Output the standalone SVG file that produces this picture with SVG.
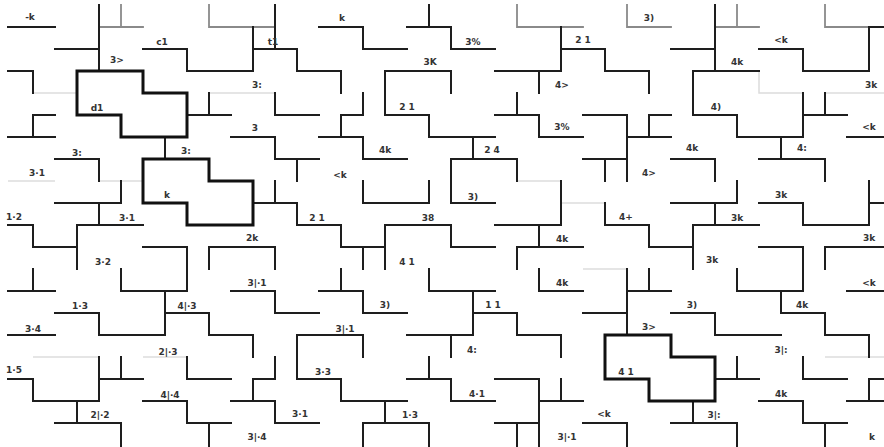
<svg xmlns="http://www.w3.org/2000/svg" width="884" height="447" viewBox="0 0 884 447">
<style>
.d{fill:none;stroke:#1e1e1e;stroke-width:2;stroke-linecap:square}
.m{fill:none;stroke:#8a8a8a;stroke-width:1.8;stroke-linecap:square}
.f{fill:none;stroke:#dcdcdc;stroke-width:1.5}
.b{fill:none;stroke:#111;stroke-width:3;stroke-linejoin:miter}
.t{font-family:"DejaVu Sans",sans-serif;font-size:9px;font-weight:bold;fill:#333;text-anchor:middle}
</style>
<rect width="884" height="447" fill="#fff"/>
<g id="faint">
<polyline class="f" points="33,93 77,93"/>
<polyline class="f" points="209,93 275,93"/>
<polyline class="f" points="8,181 55,181"/>
<polyline class="f" points="99,181 143,181"/>
<polyline class="f" points="517,181 561,181"/>
<polyline class="f" points="561,203 605,203"/>
<polyline class="f" points="759,71 759,93 803,93"/>
<polyline class="f" points="825,93 884,93"/>
<polyline class="f" points="33,357 99,357"/>
<polyline class="f" points="143,357 187,357"/>
<polyline class="f" points="583,269 627,269"/>
<polyline class="f" points="825,357 884,357"/>
</g>
<g id="connectors">
<polyline class="m" points="121,5 121,27"/>
<polyline class="m" points="99,27 143,27"/>
<polyline class="m" points="209,5 209,27 275,27"/>
<polyline class="m" points="517,5 517,27 583,27"/>
<polyline class="m" points="627,5 627,27 671,27"/>
<polyline class="m" points="737,5 737,27"/>
<polyline class="m" points="715,27 759,27"/>
<polyline class="m" points="825,5 825,27 869,27"/>
<polyline class="d" points="8,27 55,27"/>
<polyline class="d" points="99,5 99,71"/>
<polyline class="d" points="55,49 99,49"/>
<polyline class="d" points="275,5 275,49"/>
<polyline class="d" points="143,49 187,49 187,71 253,71 253,27"/>
<polyline class="d" points="253,49 297,49 297,71 341,71 341,93"/>
<polyline class="d" points="8,71 33,71 33,93"/>
<polyline class="d" points="33,115 55,115"/>
<polyline class="d" points="33,115 33,137"/>
<polyline class="d" points="8,137 55,137"/>
<polyline class="d" points="209,93 209,115"/>
<polyline class="d" points="187,115 231,115"/>
<polyline class="d" points="275,93 275,115 319,115"/>
<polyline class="d" points="231,137 275,137 275,159 319,159"/>
<polyline class="d" points="297,159 297,181"/>
<polyline class="d" points="165,137 165,159"/>
<polyline class="d" points="55,159 99,159 99,181"/>
<polyline class="d" points="253,203 297,203 297,225 341,225 341,247 385,247"/>
<polyline class="d" points="275,181 275,203"/>
<polyline class="d" points="121,181 121,203"/>
<polyline class="d" points="55,203 121,203"/>
<polyline class="d" points="99,203 99,225"/>
<polyline class="d" points="77,225 143,225"/>
<polyline class="d" points="8,225 33,225 33,247 77,247"/>
<polyline class="d" points="77,225 77,269"/>
<polyline class="d" points="143,247 187,247 187,291"/>
<polyline class="d" points="121,291 187,291"/>
<polyline class="d" points="121,269 121,291"/>
<polyline class="d" points="209,247 275,247"/>
<polyline class="d" points="209,247 209,269"/>
<polyline class="d" points="275,247 275,269"/>
<polyline class="d" points="231,291 275,291 275,313 319,313"/>
<polyline class="d" points="33,269 33,291"/>
<polyline class="d" points="8,291 55,291"/>
<polyline class="d" points="165,291 165,335"/>
<polyline class="d" points="165,313 209,313 209,335 253,335 253,357"/>
<polyline class="d" points="55,313 99,313 99,335 165,335"/>
<polyline class="d" points="8,335 55,335"/>
<polyline class="d" points="297,335 297,379"/>
<polyline class="d" points="275,357 275,379 253,379 253,401"/>
<polyline class="d" points="231,401 275,401 275,423 319,423"/>
<polyline class="d" points="99,357 99,401"/>
<polyline class="d" points="33,401 99,401"/>
<polyline class="d" points="33,379 33,401"/>
<polyline class="d" points="8,379 33,379"/>
<polyline class="d" points="99,379 143,379"/>
<polyline class="d" points="121,357 121,379"/>
<polyline class="d" points="187,357 187,379 231,379"/>
<polyline class="d" points="143,401 187,401 187,423 231,423"/>
<polyline class="d" points="209,423 209,447"/>
<polyline class="d" points="77,401 77,423"/>
<polyline class="d" points="55,423 121,423"/>
<polyline class="d" points="121,423 121,447"/>
<polyline class="d" points="319,27 363,27 363,49 407,49"/>
<polyline class="d" points="429,5 429,27"/>
<polyline class="d" points="407,27 451,27 451,49 495,49"/>
<polyline class="d" points="561,27 561,71"/>
<polyline class="d" points="561,49 605,49 605,71 649,71 649,93"/>
<polyline class="d" points="495,71 561,71"/>
<polyline class="d" points="539,71 539,93"/>
<polyline class="d" points="385,71 451,71 451,93"/>
<polyline class="d" points="385,71 385,115 429,115 429,137 495,137"/>
<polyline class="d" points="363,93 363,115"/>
<polyline class="d" points="341,115 363,115"/>
<polyline class="d" points="341,115 341,137"/>
<polyline class="d" points="319,137 363,137"/>
<polyline class="d" points="363,137 363,159 407,159"/>
<polyline class="d" points="517,93 517,115"/>
<polyline class="d" points="495,115 539,115"/>
<polyline class="d" points="539,115 539,137 583,137"/>
<polyline class="d" points="583,115 627,115"/>
<polyline class="d" points="627,115 627,181"/>
<polyline class="d" points="473,137 473,159"/>
<polyline class="d" points="451,159 517,159"/>
<polyline class="d" points="451,159 451,203 495,203"/>
<polyline class="d" points="517,159 517,181"/>
<polyline class="d" points="561,181 561,225"/>
<polyline class="d" points="495,225 561,225"/>
<polyline class="d" points="583,159 627,159"/>
<polyline class="d" points="605,159 605,181"/>
<polyline class="d" points="363,181 363,203 429,203"/>
<polyline class="d" points="429,181 429,203"/>
<polyline class="d" points="385,225 451,225"/>
<polyline class="d" points="385,225 385,269"/>
<polyline class="d" points="451,225 451,247 495,247"/>
<polyline class="d" points="363,247 363,269"/>
<polyline class="d" points="539,225 539,247"/>
<polyline class="d" points="517,247 583,247"/>
<polyline class="d" points="517,247 517,269"/>
<polyline class="d" points="429,269 429,291 495,291"/>
<polyline class="d" points="473,291 473,335"/>
<polyline class="d" points="341,269 341,291"/>
<polyline class="d" points="319,291 363,291"/>
<polyline class="d" points="363,291 363,313 407,313"/>
<polyline class="d" points="539,269 539,291 583,291"/>
<polyline class="d" points="473,313 517,313 517,335 561,335 561,357"/>
<polyline class="d" points="297,335 363,335 363,357"/>
<polyline class="d" points="407,335 473,335"/>
<polyline class="d" points="451,335 451,357"/>
<polyline class="d" points="429,357 429,379"/>
<polyline class="d" points="407,379 451,379 451,401 495,401"/>
<polyline class="d" points="297,379 341,379 341,401 407,401"/>
<polyline class="d" points="385,401 385,423"/>
<polyline class="d" points="363,423 429,423"/>
<polyline class="d" points="363,423 363,447"/>
<polyline class="d" points="429,423 429,447"/>
<polyline class="d" points="495,379 539,379"/>
<polyline class="d" points="539,379 539,447"/>
<polyline class="d" points="539,401 583,401"/>
<polyline class="d" points="561,379 561,401"/>
<polyline class="d" points="495,423 539,423"/>
<polyline class="d" points="517,423 517,447"/>
<polyline class="d" points="583,423 627,423 627,447"/>
<polyline class="d" points="715,5 715,71"/>
<polyline class="d" points="671,49 715,49"/>
<polyline class="d" points="759,49 803,49 803,71 869,71"/>
<polyline class="d" points="869,27 869,71"/>
<polyline class="d" points="869,27 884,27"/>
<polyline class="d" points="693,71 759,71"/>
<polyline class="d" points="693,71 693,115 737,115 737,137 803,137"/>
<polyline class="d" points="803,93 803,137"/>
<polyline class="d" points="627,137 671,137"/>
<polyline class="d" points="649,115 649,137"/>
<polyline class="d" points="649,115 671,115"/>
<polyline class="d" points="825,93 825,115"/>
<polyline class="d" points="803,115 847,115"/>
<polyline class="d" points="847,137 884,137"/>
<polyline class="d" points="781,137 781,159"/>
<polyline class="d" points="671,159 715,159 715,181"/>
<polyline class="d" points="737,181 737,203"/>
<polyline class="d" points="671,203 737,203"/>
<polyline class="d" points="759,159 825,159 825,181"/>
<polyline class="d" points="759,203 803,203 803,225 869,225"/>
<polyline class="d" points="869,181 869,225"/>
<polyline class="d" points="869,203 884,203"/>
<polyline class="d" points="605,203 605,225 649,225 649,247 693,247"/>
<polyline class="d" points="715,203 715,225"/>
<polyline class="d" points="693,225 759,225"/>
<polyline class="d" points="693,225 693,269"/>
<polyline class="d" points="737,269 737,291 803,291"/>
<polyline class="d" points="803,247 803,291"/>
<polyline class="d" points="759,247 803,247"/>
<polyline class="d" points="825,247 825,269"/>
<polyline class="d" points="825,247 884,247"/>
<polyline class="d" points="627,269 627,335"/>
<polyline class="d" points="627,291 671,291"/>
<polyline class="d" points="649,269 649,291"/>
<polyline class="d" points="847,291 884,291"/>
<polyline class="d" points="583,313 627,313"/>
<polyline class="d" points="671,313 715,313 715,335 781,335"/>
<polyline class="d" points="781,291 781,313 825,313 825,335 869,335 869,357"/>
<polyline class="d" points="737,357 737,379"/>
<polyline class="d" points="715,379 759,379"/>
<polyline class="d" points="803,357 803,379 847,379"/>
<polyline class="d" points="869,379 869,401"/>
<polyline class="d" points="869,379 884,379"/>
<polyline class="d" points="847,401 884,401"/>
<polyline class="d" points="759,401 803,401 803,423 847,423"/>
<polyline class="d" points="825,423 825,447"/>
<polyline class="d" points="693,401 693,423"/>
<polyline class="d" points="671,423 737,423"/>
<polyline class="d" points="737,423 737,447"/>
</g>
<g id="tile-1"><polygon class="b" points="77,71 143,71 143,93 187,93 187,137 121,137 121,115 77,115"/></g>
<g id="tile-2"><polygon class="b" points="143,159 209,159 209,181 253,181 253,225 187,225 187,203 143,203"/></g>
<g id="tile-3"><polygon class="b" points="605,335 671,335 671,357 715,357 715,401 649,401 649,379 605,379"/></g>
<g id="labels">
<text class="t" x="30" y="20">-k</text>
<text class="t" x="117" y="63">3&gt;</text>
<text class="t" x="162" y="45">c1</text>
<text class="t" x="273" y="45">t1</text>
<text class="t" x="97" y="111">d1</text>
<text class="t" x="257" y="88">3:</text>
<text class="t" x="255" y="131">3</text>
<text class="t" x="186" y="154">3:</text>
<text class="t" x="77" y="156">3:</text>
<text class="t" x="37" y="176">3·1</text>
<text class="t" x="167" y="198">k</text>
<text class="t" x="14" y="220">1·2</text>
<text class="t" x="127" y="221">3·1</text>
<text class="t" x="252" y="241">2k</text>
<text class="t" x="103" y="265">3·2</text>
<text class="t" x="257" y="286">3|·1</text>
<text class="t" x="80" y="309">1·3</text>
<text class="t" x="187" y="309">4|·3</text>
<text class="t" x="33" y="332">3·4</text>
<text class="t" x="168" y="355">2|·3</text>
<text class="t" x="14" y="373">1·5</text>
<text class="t" x="170" y="398">4|·4</text>
<text class="t" x="300" y="417">3·1</text>
<text class="t" x="100" y="418">2|·2</text>
<text class="t" x="257" y="440">3|·4</text>
<text class="t" x="342" y="21">k</text>
<text class="t" x="473" y="45">3%</text>
<text class="t" x="583" y="43">2 1</text>
<text class="t" x="430" y="65">3K</text>
<text class="t" x="562" y="88">4&gt;</text>
<text class="t" x="407" y="110">2 1</text>
<text class="t" x="562" y="130">3%</text>
<text class="t" x="385" y="153">4k</text>
<text class="t" x="492" y="153">2 4</text>
<text class="t" x="340" y="178">&lt;k</text>
<text class="t" x="473" y="200">3)</text>
<text class="t" x="317" y="221">2 1</text>
<text class="t" x="428" y="221">38</text>
<text class="t" x="562" y="242">4k</text>
<text class="t" x="407" y="265">4 1</text>
<text class="t" x="562" y="286">4k</text>
<text class="t" x="385" y="308">3)</text>
<text class="t" x="493" y="308">1 1</text>
<text class="t" x="345" y="332">3|·1</text>
<text class="t" x="472" y="353">4:</text>
<text class="t" x="323" y="375">3·3</text>
<text class="t" x="477" y="397">4·1</text>
<text class="t" x="410" y="418">1·3</text>
<text class="t" x="567" y="440">3|·1</text>
<text class="t" x="649" y="21">3)</text>
<text class="t" x="737" y="65">4k</text>
<text class="t" x="781" y="43">&lt;k</text>
<text class="t" x="871" y="88">3k</text>
<text class="t" x="716" y="110">4)</text>
<text class="t" x="869" y="130">&lt;k</text>
<text class="t" x="692" y="151">4k</text>
<text class="t" x="802" y="151">4:</text>
<text class="t" x="649" y="176">4&gt;</text>
<text class="t" x="781" y="198">3k</text>
<text class="t" x="626" y="220">4+</text>
<text class="t" x="737" y="221">3k</text>
<text class="t" x="712" y="263">3k</text>
<text class="t" x="869" y="241">3k</text>
<text class="t" x="869" y="286">&lt;k</text>
<text class="t" x="692" y="308">3)</text>
<text class="t" x="802" y="308">4k</text>
<text class="t" x="649" y="330">3&gt;</text>
<text class="t" x="626" y="375">4 1</text>
<text class="t" x="781" y="353">3|:</text>
<text class="t" x="781" y="397">4k</text>
<text class="t" x="714" y="418">3|:</text>
<text class="t" x="604" y="417">&lt;k</text>
<text class="t" x="872" y="440">k</text>
</g>
</svg>
